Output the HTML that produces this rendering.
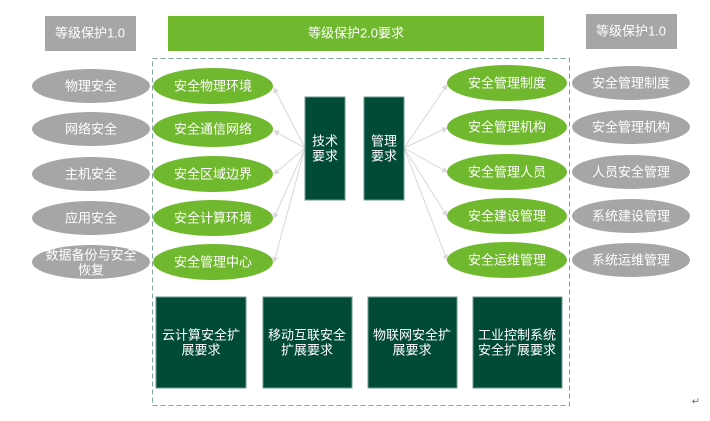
<!DOCTYPE html>
<html><head><meta charset="utf-8"><style>
body{margin:0;width:710px;height:416px;background:#fff;overflow:hidden}
svg text{font-family:"Liberation Sans","Noto Sans CJK SC",sans-serif;fill:#fff;text-anchor:middle;dominant-baseline:central;font-size:13px}
</style></head><body>
<svg width="710" height="416" xmlns="http://www.w3.org/2000/svg">
<defs><marker id="a" markerWidth="6" markerHeight="6" refX="5" refY="3" orient="auto"><path d="M0,0L6,3L0,6z" fill="#d8d8d8"/></marker></defs>
<rect x="45" y="16" width="91" height="35" fill="#a6a6a6"/><text x="90" y="33">等级保护1.0</text>
<rect x="168" y="16" width="376" height="35" fill="#70b92e"/><text x="356" y="33">等级保护2.0要求</text>
<rect x="586" y="14" width="91" height="35" fill="#a6a6a6"/><text x="631" y="31">等级保护1.0</text>
<rect x="152.5" y="58.5" width="417" height="347" fill="none" stroke="#7fa69a" stroke-dasharray="5,3"/>
<g stroke="#d8d8d8" stroke-width="1" marker-end="url(#a)">
<line x1="305" y1="148" x2="274" y2="88"/><line x1="305" y1="148" x2="274" y2="131"/><line x1="305" y1="148" x2="274" y2="174"/><line x1="305" y1="148" x2="274" y2="218"/><line x1="305" y1="148" x2="274" y2="262"/>
<line x1="404" y1="148" x2="447" y2="85"/><line x1="404" y1="148" x2="447" y2="128"/><line x1="404" y1="148" x2="447" y2="172"/><line x1="404" y1="148" x2="447" y2="216"/><line x1="404" y1="148" x2="447" y2="260"/>
</g>
<g fill="#a6a6a6">
<ellipse cx="91" cy="86" rx="59" ry="17"/><ellipse cx="91" cy="129" rx="59" ry="17"/><ellipse cx="91" cy="174" rx="59" ry="17"/><ellipse cx="91" cy="218" rx="59" ry="17"/><ellipse cx="91" cy="262" rx="59" ry="17"/>
<ellipse cx="631" cy="83" rx="59" ry="17"/><ellipse cx="631" cy="127" rx="59" ry="17"/><ellipse cx="631" cy="172" rx="59" ry="17"/><ellipse cx="631" cy="216" rx="59" ry="17"/><ellipse cx="631" cy="260" rx="59" ry="17"/>
</g>
<g fill="#70b92e">
<ellipse cx="213" cy="86" rx="60" ry="18"/><ellipse cx="213" cy="129" rx="60" ry="18"/><ellipse cx="213" cy="174" rx="60" ry="18"/><ellipse cx="213" cy="218" rx="60" ry="18"/><ellipse cx="213" cy="262" rx="60" ry="18"/>
<ellipse cx="507" cy="83" rx="60" ry="18"/><ellipse cx="507" cy="127" rx="60" ry="18"/><ellipse cx="507" cy="172" rx="60" ry="18"/><ellipse cx="507" cy="216" rx="60" ry="18"/><ellipse cx="507" cy="260" rx="60" ry="18"/>
</g>
<text x="91" y="86">物理安全</text><text x="91" y="129">网络安全</text><text x="91" y="174">主机安全</text><text x="91" y="218">应用安全</text><text x="91" y="255">数据备份与安全</text><text x="91" y="270">恢复</text>
<text x="631" y="83">安全管理制度</text><text x="631" y="127">安全管理机构</text><text x="631" y="172">人员安全管理</text><text x="631" y="216">系统建设管理</text><text x="631" y="260">系统运维管理</text>
<text x="213" y="86">安全物理环境</text><text x="213" y="129">安全通信网络</text><text x="213" y="174">安全区域边界</text><text x="213" y="218">安全计算环境</text><text x="213" y="262">安全管理中心</text>
<text x="507" y="83">安全管理制度</text><text x="507" y="127">安全管理机构</text><text x="507" y="172">安全管理人员</text><text x="507" y="216">安全建设管理</text><text x="507" y="260">安全运维管理</text>
<g fill="#004a37" stroke="#6f9a8d"><rect x="305" y="97" width="40" height="103"/><rect x="364" y="97" width="40" height="103"/>
<rect x="156" y="297" width="90" height="91"/><rect x="263" y="297" width="89" height="91"/><rect x="368" y="297" width="89" height="91"/><rect x="473" y="297" width="89" height="91"/></g>
<text x="325" y="141">技术</text><text x="325" y="156">要求</text><text x="384" y="141">管理</text><text x="384" y="156">要求</text>
<text x="201" y="335">云计算安全扩</text><text x="201" y="350">展要求</text>
<text x="307" y="335">移动互联安全</text><text x="307" y="350">扩展要求</text>
<text x="412" y="335">物联网安全扩</text><text x="412" y="350">展要求</text>
<text x="517" y="335">工业控制系统</text><text x="517" y="350">安全扩展要求</text>
<text x="696" y="402" style="fill:#666;font-size:10px">↵</text>
</svg>
</body></html>
